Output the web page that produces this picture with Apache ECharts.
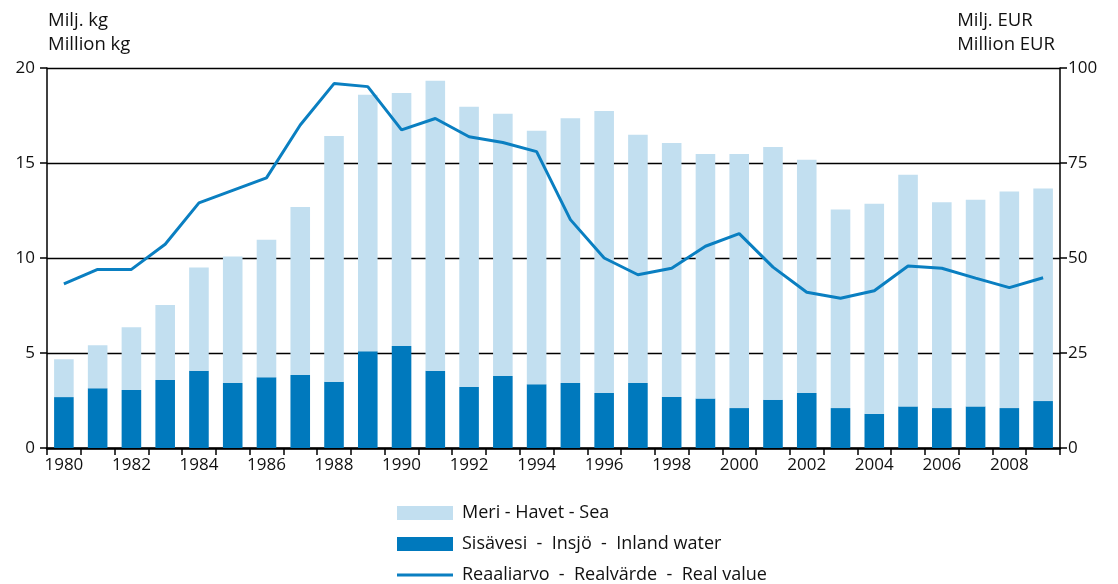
<!DOCTYPE html>
<html>
<head>
<meta charset="utf-8">
<script src="https://cdn.jsdelivr.net/npm/echarts@6/dist/echarts.min.js"></script>
<style>
  html, body { margin: 0; padding: 0; background: #fff; }
  #chart { width: 1118px; height: 584px; }
</style>
</head>
<body>
<div id="chart"></div>
<script>
// vuodet / years
const years = ['1980','1981','1982','1983','1984','1985','1986','1987','1988','1989',
  '1990','1991','1992','1993','1994','1995','1996','1997','1998','1999',
  '2000','2001','2002','2003','2004','2005','2006','2007','2008','2009'];

// Sisävesi - Insjö - Inland water (milj. kg)
const inland = [2.68, 3.14, 3.05, 3.58, 4.07, 3.42, 3.72, 3.84, 3.49, 5.09,
  5.37, 4.07, 3.21, 3.79, 3.35, 3.42, 2.89, 3.42, 2.68, 2.61,
  2.10, 2.54, 2.89, 2.10, 1.80, 2.19, 2.10, 2.19, 2.10, 2.47];

// Meri - Havet - Sea (milj. kg)
const sea = [1.99, 2.27, 3.31, 3.94, 5.43, 6.66, 7.24, 8.85, 12.93, 13.50,
  13.31, 15.26, 14.75, 13.80, 13.35, 13.94, 14.85, 13.07, 13.37, 12.86,
  13.37, 13.30, 12.28, 10.45, 11.05, 12.19, 10.83, 10.88, 11.40, 11.19];

// Reaaliarvo - Realvärde - Real value (milj. EUR)
const realValue = [43.2, 47.0, 47.0, 53.6, 64.5, 67.8, 71.1, 85.0, 95.9, 95.1,
  83.7, 86.7, 81.9, 80.4, 78.0, 60.1, 50.0, 45.6, 47.3, 53.1,
  56.4, 47.6, 41.0, 39.4, 41.4, 47.9, 47.3, 44.7, 42.2, 44.8];

const seaName = 'Meri - Havet - Sea';
const inlandName = 'Sisävesi  -  Insjö  -  Inland water';
const lineName = 'Reaaliarvo  -  Realvärde  -  Real value';

const font = 'Open Sans';
const dark = '#0079bd';
const light = '#c2dff0';
const lineCol = '#0a7fc1';
const txt = { fontFamily: font, fontSize: 17, color: '#111' };
const bigTxt = { fontFamily: font, fontSize: 18.5, color: '#111', fontWeight: 'normal' };

// one legend per row so the rows sit where they do in the original
function legendRow(name, top, h) {
  return {
    left: 392, top: top,
    itemWidth: 56, itemHeight: h,
    icon: 'rect',
    selectedMode: false,
    textStyle: Object.assign({}, bigTxt, { fontSize: 18, padding: [0, 0, 0, 4] }),
    data: [name]
  };
}

const chart = echarts.init(document.getElementById('chart'));
chart.setOption({
  animation: false,
  backgroundColor: '#fff',
  textStyle: { fontFamily: font, color: '#111' },
  title: [
    { text: 'Milj. kg\nMillion kg', left: 43, top: 4,
      textStyle: Object.assign({}, bigTxt, { lineHeight: 24 }) },
    { text: 'Milj. EUR\nMillion EUR', right: 58, top: 4,
      textStyle: Object.assign({}, bigTxt, { lineHeight: 24, align: 'right' }) }
  ],
  grid: { left: 47, right: 58, top: 68, bottom: 136, containLabel: false },
  legend: [
    legendRow(seaName, 499, 14),
    legendRow(inlandName, 530, 14),
    legendRow(lineName, 561, 3)
  ],
  xAxis: {
    type: 'category',
    data: years,
    boundaryGap: true,
    axisLine: { lineStyle: { color: '#000', width: 2.5 } },
    axisTick: { show: true, interval: 0, length: 7, lineStyle: { color: '#000', width: 1.5 } },
    axisLabel: Object.assign({ interval: 1, margin: 9 }, txt)
  },
  yAxis: [
    {
      type: 'value', min: 0, max: 20, interval: 5,
      axisLine: { show: true, lineStyle: { color: '#000', width: 1.5 } },
      axisTick: { show: true, length: 7, lineStyle: { color: '#000', width: 1.5 } },
      axisLabel: Object.assign({ margin: 12 }, txt),
      splitLine: { show: true, lineStyle: { color: '#000', width: 1.3 } }
    },
    {
      type: 'value', min: 0, max: 100, interval: 25,
      axisLine: { show: true, lineStyle: { color: '#000', width: 1.5 } },
      axisTick: { show: true, length: 7, lineStyle: { color: '#000', width: 1.5 } },
      axisLabel: Object.assign({ margin: 8 }, txt),
      splitLine: { show: false }
    }
  ],
  series: [
    {
      name: inlandName,
      type: 'bar', stack: 'catch', yAxisIndex: 0,
      barWidth: '58%',
      itemStyle: { color: dark },
      data: inland
    },
    {
      name: seaName,
      type: 'bar', stack: 'catch', yAxisIndex: 0,
      barWidth: '58%',
      itemStyle: { color: light },
      data: sea
    },
    {
      name: lineName,
      type: 'line', yAxisIndex: 1,
      symbol: 'none',
      lineStyle: { color: lineCol, width: 3 },
      itemStyle: { color: lineCol },
      z: 5,
      data: realValue
    }
  ]
});
</script>
</body>
</html>
